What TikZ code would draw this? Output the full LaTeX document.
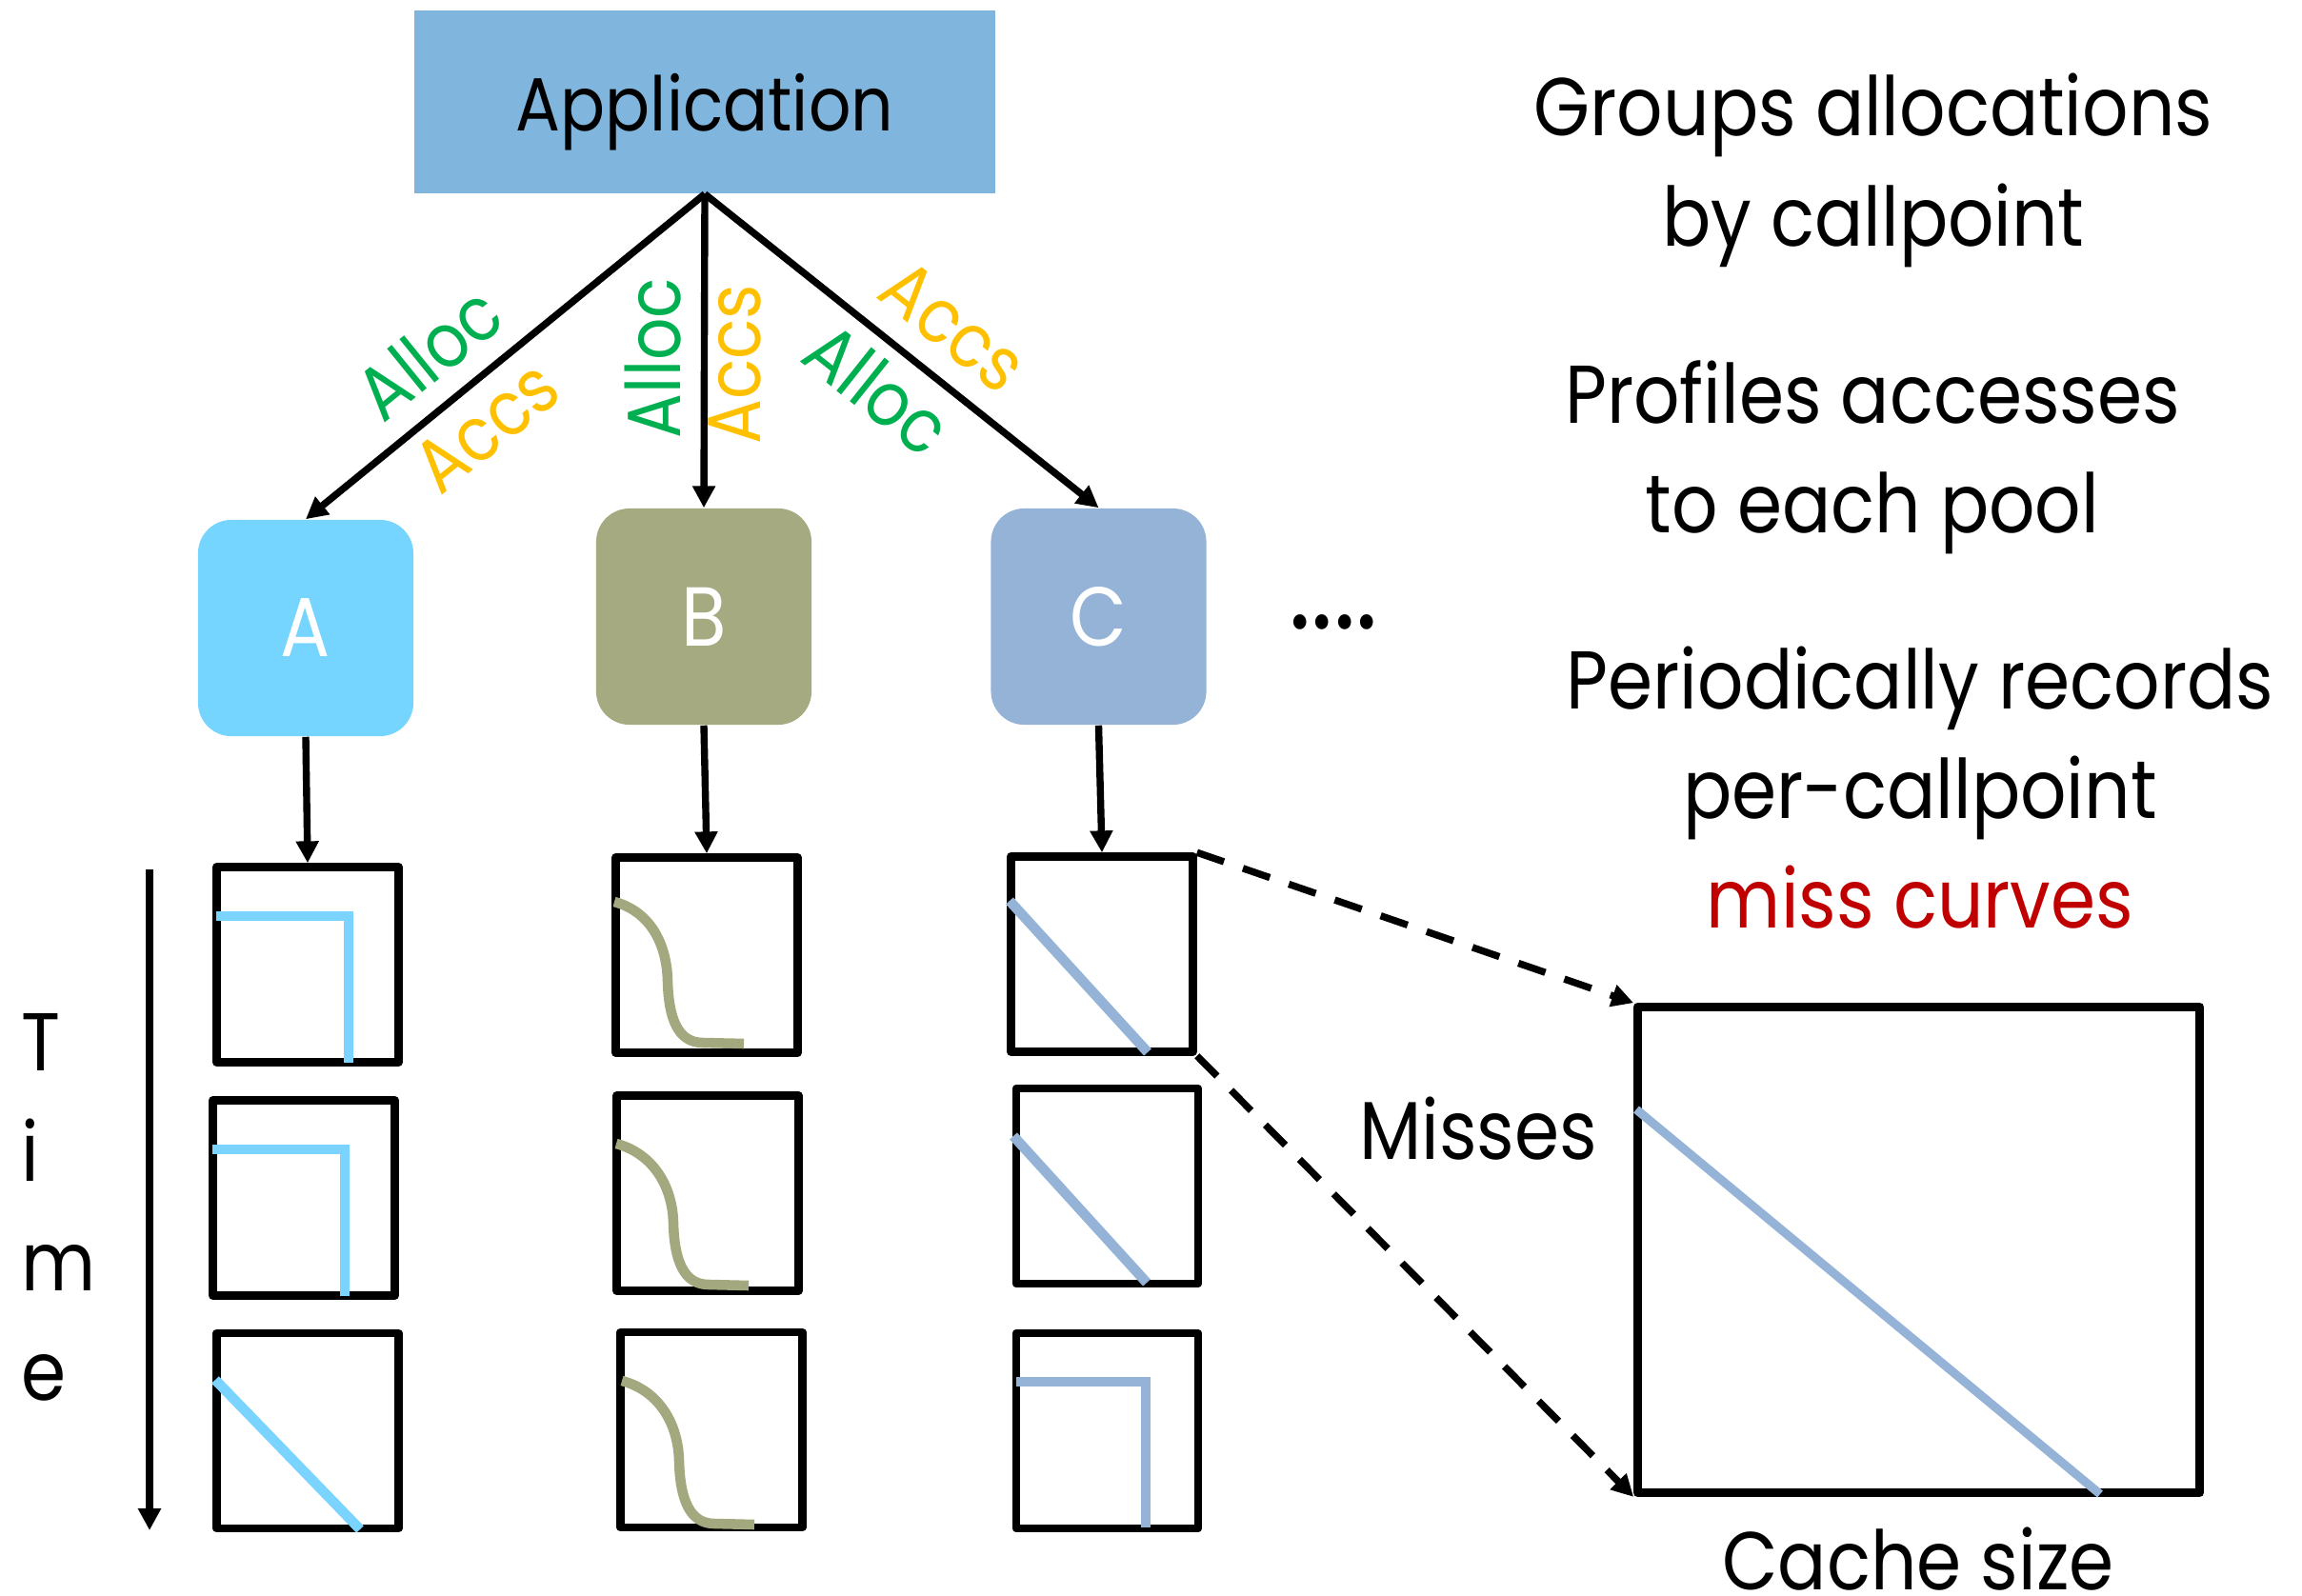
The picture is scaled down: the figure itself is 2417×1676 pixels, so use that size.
\documentclass[tikz,border=0pt]{standalone}
\usepackage{fontspec}
\setmainfont{Poppins}[FakeStretch=0.88]
\usetikzlibrary{arrows.meta}
\definecolor{appblue}{HTML}{80B6DE}
\definecolor{poolA}{HTML}{75D5FF}
\definecolor{poolB}{HTML}{A5AA80}
\definecolor{poolC}{HTML}{95B3D7}
\definecolor{lineA}{HTML}{7AD4FF}
\definecolor{lineB}{HTML}{A3A87E}
\definecolor{lineC}{HTML}{95B3D7}
\definecolor{allocgreen}{HTML}{00B050}
\definecolor{accsgold}{HTML}{FFC000}
\definecolor{missred}{HTML}{C00000}
\begin{document}
\begin{tikzpicture}[x=0.01cm,y=-0.01cm,
  appbox/.style={fill=appblue, minimum width=6.10cm, minimum height=1.92cm, inner sep=0, text depth=0pt, font=\fontsize{22.5}{26}\selectfont},
  pool/.style={rounded corners=0.35cm, minimum width=2.26cm, minimum height=2.27cm, inner sep=0, text=white, font=\fontsize{25}{28}\selectfont},
  plotbox/.style={draw=black, line width=2.4pt, minimum width=1.91cm, minimum height=2.05cm, inner sep=0, line join=round},
  bigbox/.style={draw=black, line width=2.4pt, minimum width=5.90cm, minimum height=5.10cm, inner sep=0, line join=round},
  conn/.style={line width=2.1pt, -{Triangle[length=6.5pt,width=6.5pt]}},
  dconn/.style={line width=2.1pt, dash pattern=on 8.5pt off 6pt, -{Triangle[length=6.5pt,width=6.5pt]}},
  lbl/.style={font=\fontsize{22.5}{26}\selectfont, inner sep=0},
  txt/.style={font=\fontsize{24.5}{28}\selectfont, anchor=base, inner sep=0},
  curveA/.style={draw=lineA, line width=3pt},
  curveB/.style={draw=lineB, line width=3pt},
  curveC/.style={draw=lineC, line width=3pt},
]
\useasboundingbox (0,0) rectangle (2417,1676);

% application and pools
\node[appbox] (app) at (740,107) {Application};
\node[pool, fill=poolA] (A) at (321,659.5) {A};
\node[pool, fill=poolB] (B) at (739,647.5) {B};
\node[pool, fill=poolC] (C) at (1153.5,647.5) {C};
\node[font=\fontsize{36}{40}\selectfont, anchor=base, inner sep=0] (dots) at (1400,660) {....};

% top connectors
\draw[conn] (app.south) -- (A.north);
\draw[conn] (app.south) -- (B.north);
\draw[conn] (app.south) -- (C.north);

% labels
\node[lbl, text=allocgreen, rotate=39] (l1) at (450,370) {Alloc};
\node[lbl, text=accsgold, rotate=39] (l2) at (511,448) {Accs};
\node[lbl, text=allocgreen, rotate=90] (m1) at (686,376) {Alloc};
\node[lbl, text=accsgold, rotate=90] (m2) at (771.5,383) {Accs};
\node[lbl, text=accsgold, rotate=-38.5] (r1) at (1001,343) {Accs};
\node[lbl, text=allocgreen, rotate=-38.5] (r2) at (922,408) {Alloc};

% plot boxes
\node[plotbox] (a1) at (323,1013) {};
\node[plotbox] (a2) at (319,1258) {};
\node[plotbox] (a3) at (323,1502.5) {};
\node[plotbox] (b1) at (742,1003) {};
\node[plotbox] (b2) at (743,1253) {};
\node[plotbox] (b3) at (747,1501.5) {};
\node[plotbox] (c1) at (1157,1002) {};
\node[plotbox] (c2) at (1162.5,1245.5) {};
\node[plotbox] (c3) at (1162.5,1502.5) {};
\node[bigbox] (big) at (2014.5,1312.5) {};

% pool to plot connectors
\draw[conn] (A.south) -- (a1.north);
\draw[conn] (B.south) -- (b1.north);
\draw[conn] (C.south) -- (c1.north);

% zoom connectors
\draw[dconn] (c1.north east) -- (big.north west);
\draw[dconn] (c1.south east) -- (big.south west);

% curves A
\draw[curveA, line join=miter] (227,962) -- (366,962) -- (366,1116);
\draw[curveA, line join=miter] (223,1207) -- (362,1207) -- (362,1361);
\draw[curveA] (226,1449) -- (378,1606);
% curves B
\draw[curveB] (645,947) .. controls (682,957) and (700,990) .. (701,1030) .. controls (702,1070) and (712,1095) .. (738,1095) -- (781,1096);
\draw[curveB] (647,1201) .. controls (685,1211) and (706,1245) .. (707,1284) .. controls (708,1324) and (718,1349) .. (744,1349) -- (786,1350);
\draw[curveB] (653,1450) .. controls (691,1460) and (712,1494) .. (713,1534) .. controls (714,1574) and (724,1600) .. (750,1600) -- (792,1601);
% curves C
\draw[curveC] (1060,946) -- (1205,1105);
\draw[curveC] (1064,1193) -- (1204,1347);
\draw[curveC, line join=miter] (1067,1451) -- (1203,1451) -- (1203,1604);
% big curve
\draw[draw=lineC, line width=2.6pt] (1718,1165) -- (2205,1569);

% time axis
\coordinate (t0) at (157,913);
\coordinate (t1) at (157,1607);
\draw[conn] (t0) -- (t1);
\node[txt, anchor=base west] (tT) at (22,1124) {T};
\node[txt, anchor=base west] (ti) at (22,1240) {i};
\node[txt, anchor=base west] (tm) at (22,1355) {m};
\node[txt, anchor=base west] (te) at (22,1470) {e};

% axis labels
\node[txt] (misses) at (1552,1217) {Misses};
\node[txt] (cache) at (2014,1669) {Cache size};

% right texts
\node[txt] (g1) at (1967,143) {Groups allocations};
\node[txt] (g2) at (1967,259) {by callpoint};
\node[txt] (p1) at (1966,444) {Profiles accesses};
\node[txt] (p2) at (1966,559) {to each pool};
\node[txt] (q1) at (2016,744) {Periodically records};
\node[txt] (q2) at (2016,859) {per-callpoint};
\node[txt, text=missred] (q3) at (2016,974) {miss curves};
\end{tikzpicture}
\end{document}
